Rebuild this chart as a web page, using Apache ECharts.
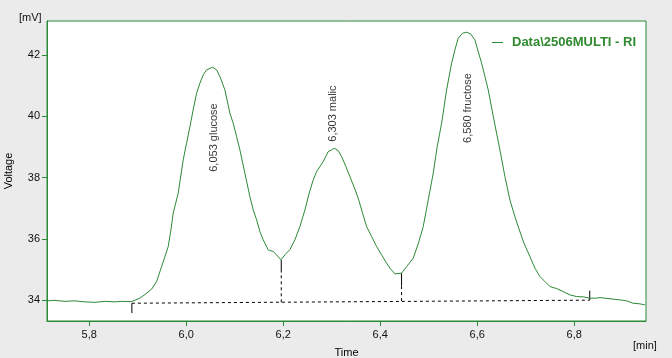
<!DOCTYPE html>
<html>
<head>
<meta charset="utf-8">
<script src="https://cdn.jsdelivr.net/npm/echarts@6/dist/echarts.min.js"></script>
<style>
html,body{margin:0;padding:0;background:#ebebeb;}
#c{width:672px;height:358px;}
</style>
</head>
<body>
<div id="c"></div>
<script>
// ---- data ----
const seriesName = 'Data\\2506MULTI - RI';
const times = [5.7128,5.7293,5.7499,5.7705,5.7911,5.8118,5.8324,5.8530,5.8674,5.8874,5.9045,5.9169,5.9287,5.9390,5.9493,5.9561,5.9629,5.9685,5.9732,5.9835,5.9938,6.0008,6.0076,6.0144,6.0214,6.0282,6.0351,6.0421,6.0544,6.0627,6.0695,6.0798,6.0901,6.0969,6.1039,6.1107,6.1210,6.1313,6.1381,6.1452,6.1520,6.1588,6.1691,6.1794,6.1864,6.1953,6.2035,6.2138,6.2241,6.2344,6.2448,6.2536,6.2619,6.2689,6.2757,6.2825,6.2928,6.2998,6.3052,6.3134,6.3204,6.3293,6.3375,6.3458,6.3546,6.3637,6.3720,6.3823,6.3926,6.4029,6.4132,6.4200,6.4303,6.4441,6.4545,6.4680,6.4784,6.4887,6.4990,6.5093,6.5175,6.5266,6.5369,6.5472,6.5540,6.5608,6.5699,6.5782,6.5864,6.5953,6.6021,6.6091,6.6159,6.6227,6.6345,6.6468,6.6571,6.6674,6.6777,6.6845,6.6963,6.7087,6.7190,6.7293,6.7396,6.7499,6.7637,6.7773,6.7911,6.8050,6.8186,6.8324,6.8462,6.8530,6.8798,6.8942,6.9080,6.9210,6.9355,6.9458];
const voltages = [33.977,33.993,33.961,33.977,33.945,33.928,33.961,33.945,33.961,33.954,34.065,34.206,34.359,34.607,35.096,35.422,35.749,36.294,36.838,37.491,38.577,39.122,39.664,40.208,40.754,41.080,41.351,41.514,41.602,41.514,41.295,40.862,40.101,39.775,39.338,38.904,38.143,37.380,36.946,36.620,36.238,35.967,35.641,35.586,35.478,35.315,35.478,35.651,35.967,36.401,36.946,37.491,37.925,38.196,38.359,38.522,38.848,38.904,38.959,38.881,38.685,38.359,38.033,37.706,37.328,36.838,36.401,36.075,35.749,35.478,35.207,35.044,34.858,34.881,35.096,35.370,35.837,36.401,37.272,38.143,39.011,39.775,40.862,41.732,42.166,42.548,42.711,42.744,42.688,42.493,42.111,41.732,41.295,40.862,39.883,38.904,38.033,37.272,36.728,36.401,35.860,35.422,35.044,34.770,34.607,34.444,34.378,34.281,34.173,34.117,34.108,34.065,34.065,34.085,34.033,34.010,33.977,33.902,33.879,33.847];
const xTicks = [5.8,6.0,6.2,6.4,6.6,6.8];
const yTicks = [34,36,38,40,42];
// integration baseline (start / end)
const baseTimes = [5.888, 6.832];
const baseValues = [33.90, 34.00];
// drop lines at valleys: time, baseline value, solid-part bottom, curve value
const dropTimes = [6.196, 6.444];
const dropBase = [33.93, 33.97];
const dropSolidEnd = [34.90, 34.47];
const dropTop = [35.31, 34.88];
// start/end event ticks: time, from, to
const eventTimes = [5.888, 6.832];
const eventFrom = [33.90, 34.00];
const eventTo = [33.58, 34.31];
// peak labels
const labelTimes = [6.0575, 6.3035, 6.5809];
const labelValues = [38.19, 39.17, 39.13];
const labelTexts = ['6,053 glucose', '6,303 malic', '6,580 fructose'];

// ---- chart ----
const green = '#2a8a36';
const font = 'Liberation Sans';
const fmt = v => v.toFixed(1).replace('.', ',');
const series = [];
series.push({
  name: seriesName, type: 'line', data: times.map((t, i) => [t, voltages[i]]),
  showSymbol: false, symbol: 'none', lineStyle: {color: green, width: 1}, itemStyle: {color: green}, z: 3
});
series.push({
  type: 'line', data: baseTimes.map((t, i) => [t, baseValues[i]]), symbol: 'none',
  lineStyle: {color: '#000', width: 1, type: [3, 3]}, z: 2, silent: true
});
dropTimes.forEach((t, i) => {
  series.push({type: 'line', data: [[t, dropBase[i]], [t, dropSolidEnd[i]]], symbol: 'none',
    lineStyle: {color: '#000', width: 1, type: [3, 3]}, z: 2, silent: true});
  series.push({type: 'line', data: [[t, dropSolidEnd[i]], [t, dropTop[i]]], symbol: 'none',
    lineStyle: {color: '#000', width: 1}, z: 2, silent: true});
});
eventTimes.forEach((t, i) => {
  series.push({type: 'line', data: [[t, eventFrom[i]], [t, eventTo[i]]], symbol: 'none',
    lineStyle: {color: '#000', width: 1}, z: 2, silent: true});
});
series.push({
  type: 'scatter', symbolSize: 0, silent: true,
  data: labelTimes.map((t, i) => ({value: [t, labelValues[i]], label: {formatter: labelTexts[i]}})),
  label: {show: true, position: 'inside', rotate: 90, align: 'left', verticalAlign: 'middle',
    fontFamily: font, fontSize: 11, color: '#000'}
});

const chart = echarts.init(document.getElementById('c'), null, {renderer: 'canvas'});
chart.setOption({
  animation: false,
  backgroundColor: '#ebebeb',
  grid: {left: 47, top: 21, width: 599, height: 300, outerBoundsMode: 'none', containLabel: false,
    show: true, backgroundColor: '#fff', borderColor: green, borderWidth: 1},
  legend: {
    data: [seriesName], right: 31, top: 31, icon: 'rect', itemWidth: 11, itemHeight: 1, itemGap: 6,
    textStyle: {fontFamily: font, fontSize: 13, fontWeight: 'bold', color: '#2f8a2f', padding: [0, 0, 0, 4]}
  },
  xAxis: {
    type: 'value', min: 5.713, max: 6.948,
    name: 'Time', nameLocation: 'middle', nameGap: 26,
    nameTextStyle: {fontFamily: font, fontSize: 11, color: '#000'},
    axisLine: {show: true, onZero: false, lineStyle: {color: green}},
    axisTick: {show: true, length: 5, lineStyle: {color: green}, customValues: xTicks},
    axisLabel: {fontFamily: font, fontSize: 11, color: '#111', margin: 8, customValues: xTicks, formatter: fmt},
    splitLine: {show: false}
  },
  yAxis: {
    type: 'value', min: 33.32, max: 43.11,
    name: 'Voltage', nameLocation: 'middle', nameGap: 33, nameRotate: 90,
    nameTextStyle: {fontFamily: font, fontSize: 11, color: '#000'},
    axisLine: {show: true, onZero: false, lineStyle: {color: green}},
    axisTick: {show: true, length: 5, lineStyle: {color: green}, customValues: yTicks},
    axisLabel: {fontFamily: font, fontSize: 11, color: '#111', margin: 7, customValues: yTicks, formatter: v => String(v)},
    splitLine: {show: false}
  },
  graphic: [
    {type: 'text', left: 19, top: 12, style: {text: '[mV]', fontFamily: font, fontSize: 11, fill: '#111'}},
    {type: 'text', left: 633, top: 340, style: {text: '[min]', fontFamily: font, fontSize: 11, fill: '#111'}}
  ],
  series: series
});
</script>
</body>
</html>
